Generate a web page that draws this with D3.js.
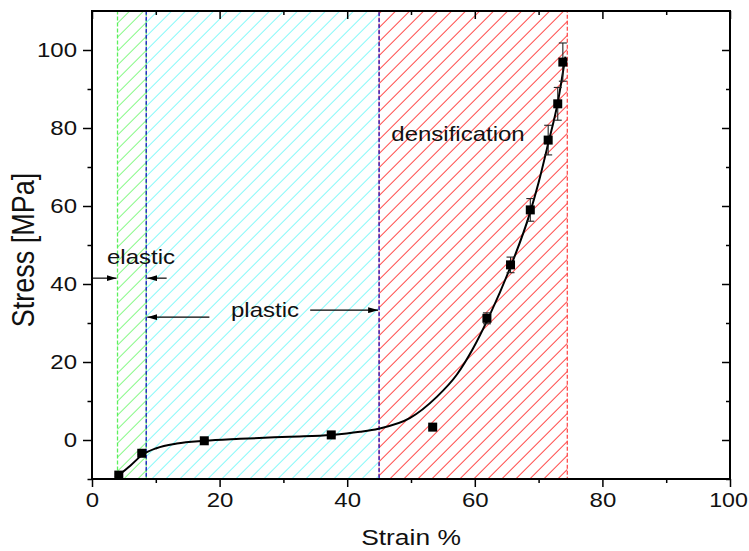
<!DOCTYPE html>
<html>
<head>
<meta charset="utf-8">
<script src="https://cdn.jsdelivr.net/npm/d3@7"></script>
<style>
  html, body { margin: 0; padding: 0; background: #fff; }
  svg { display: block; font-family: "Liberation Sans", Arial, sans-serif; }
</style>
</head>
<body>
<svg id="chart" width="749" height="551"></svg>
<script>
// Measured strain (%) / stress (MPa) points with their standard deviations
const strain = [4.2, 7.8, 17.6, 37.5, 53.4, 61.9, 65.6, 68.7, 71.5, 73.0, 73.8];
const stress = [-9.0, -3.4, -0.2, 1.3, 3.3, 31.2, 44.9, 59.0, 76.9, 86.2, 96.9];
const stressErr = [0.3, 0.3, 0.3, 0.3, 0.3, 1.4, 2.0, 2.9, 3.8, 4.2, 4.9];

// Fitted trend line through the measurements
const fitStrain = [4.2, 6.0, 7.8, 10.1, 13.3, 17.6, 23.2, 31.0, 37.5, 42.0, 44.9, 49.8, 54.0, 57.2, 59.7, 62.1, 65.5, 68.7, 70.0, 71.5, 73.0, 74.2];
const fitStress = [-9.0, -6.6, -3.9, -2.1, -0.9, -0.2, 0.3, 0.85, 1.3, 2.1, 2.9, 5.6, 11.0, 16.8, 23.4, 31.2, 44.0, 58.5, 66.0, 76.0, 86.5, 98.3];

// Deformation regimes (strain ranges)
const regionNames = ["elastic", "plastic", "densification"];
const regionStart = [4.0, 8.5, 45.0];
const regionEnd = [8.5, 45.0, 74.5];

// Axis ticks
const xTicks = [0, 20, 40, 60, 80, 100];
const xMinor = [10, 30, 50, 70, 90];
const yTicks = [0, 20, 40, 60, 80, 100];
const yMinor = [-10, 10, 30, 50, 70, 90];

const svg = d3.select("#chart");
const L = 92, R = 730, T = 11, B = 479;
const x = d3.scaleLinear().domain([0, 100]).range([L, R]);
const y = d3.scaleLinear().domain([-10, 110]).range([B, T]);
const SX = 1.2; // horizontal glyph stretch

// Hatch patterns for each regime
const hatchColors = ["#70f870", "#70f8f8", "#ff2a2a"];
const defs = svg.append("defs");
hatchColors.forEach((c, i) => {
  const p = defs.append("pattern")
    .attr("id", "hatch" + i)
    .attr("patternUnits", "userSpaceOnUse")
    .attr("width", 9.9).attr("height", 9.9)
    .attr("patternTransform", "rotate(45)");
  p.append("line")
    .attr("x1", 0).attr("y1", -1).attr("x2", 0).attr("y2", 11)
    .attr("stroke", c).attr("stroke-width", 1.7);
});

const borderColors = ["#5cf05c", "#1a1acc", "#ff3030"];
const regions = svg.append("g");
regionNames.forEach((n, i) => {
  regions.append("rect")
    .attr("x", x(regionStart[i])).attr("y", T)
    .attr("width", x(regionEnd[i]) - x(regionStart[i]))
    .attr("height", B - T)
    .attr("fill", "url(#hatch" + i + ")");
});
// Dashed region borders (densification first so the plastic border sits on top)
[2, 0, 1].forEach(i => {
  regions.append("rect")
    .attr("x", x(regionStart[i])).attr("y", T)
    .attr("width", x(regionEnd[i]) - x(regionStart[i]))
    .attr("height", B - T)
    .attr("fill", "none")
    .attr("stroke", i === 2 ? "#ff5050" : borderColors[i])
    .attr("stroke-width", 1.3)
    .attr("stroke-dasharray", "4,2");
});

// Fitted curve
const fitPts = fitStrain.map((s, i) => [s, fitStress[i]]);
svg.append("path")
  .datum(fitPts)
  .attr("fill", "none")
  .attr("stroke", "#000")
  .attr("stroke-width", 2)
  .attr("d", d3.line().x(d => x(d[0])).y(d => y(d[1])).curve(d3.curveMonotoneX));

// Error bars
const pts = strain.map((s, i) => ({ s, v: stress[i], e: stressErr[i] }));
const eb = svg.append("g").attr("stroke", "#222").attr("stroke-width", 1.1);
pts.forEach(d => {
  eb.append("line").attr("x1", x(d.s)).attr("x2", x(d.s)).attr("y1", y(d.v - d.e)).attr("y2", y(d.v + d.e));
  [d.v - d.e, d.v + d.e].forEach(v => {
    eb.append("line").attr("x1", x(d.s) - 4).attr("x2", x(d.s) + 4).attr("y1", y(v)).attr("y2", y(v));
  });
});

// Square markers
svg.append("g").selectAll("rect").data(pts).join("rect")
  .attr("x", d => x(d.s) - 4.5).attr("y", d => y(d.v) - 4.5)
  .attr("width", 9).attr("height", 9)
  .attr("fill", "#000");

// Annotation arrows
defs.append("marker")
  .attr("id", "arrow").attr("viewBox", "0 0 10 6")
  .attr("refX", 10).attr("refY", 3)
  .attr("markerWidth", 10).attr("markerHeight", 6)
  .attr("markerUnits", "userSpaceOnUse")
  .attr("orient", "auto")
  .append("path").attr("d", "M0,0 L10,3 L0,6 Z").attr("fill", "#000");

function arrow(x1, y1, x2, y2) {
  svg.append("line")
    .attr("x1", x1).attr("y1", y1).attr("x2", x2).attr("y2", y2)
    .attr("stroke", "#000").attr("stroke-width", 1.2)
    .attr("marker-end", "url(#arrow)");
}
arrow(x(0), y(41.5), x(regionStart[0]) - 1, y(41.5));
arrow(x(11.7), y(41.5), x(regionEnd[0]) + 1, y(41.5));
arrow(x(18.4), y(31.5), x(regionStart[1]) + 1, y(31.5));
arrow(x(34.2), y(33.3), x(regionEnd[1]) - 1, y(33.3));

function label(txt, px, py, size, anchor) {
  svg.append("text")
    .attr("transform", `translate(${px},${py}) scale(${SX},1)`)
    .attr("text-anchor", anchor || "middle")
    .attr("font-size", size)
    .attr("fill", "#111")
    .text(txt);
}
label(regionNames[0], 141, 264, 20);
label(regionNames[1], 265, 317, 20);
label(regionNames[2], 458, 141, 20);

// Axes
const axisG = svg.append("g");
function styleAxis(g) {
  g.select(".domain").remove();
  g.selectAll("line").attr("stroke", "#000").attr("stroke-width", 1.5);
}
// bottom
axisG.append("g").attr("transform", `translate(0,${B})`)
  .call(d3.axisBottom(x).tickValues(xTicks).tickSize(8).tickPadding(6))
  .call(styleAxis)
  .call(g => g.selectAll("text")
    .attr("font-size", 20).attr("fill", "#111")
    .attr("font-family", "Liberation Sans, Arial, sans-serif")
    .attr("transform", d => d === 100 ? `translate(-2,0) scale(1.16,1)` : `scale(${SX},1)`));
axisG.append("g").attr("transform", `translate(0,${B})`)
  .call(d3.axisBottom(x).tickValues(xMinor).tickSize(4).tickFormat(""))
  .call(styleAxis);
// top (inward ticks)
axisG.append("g").attr("transform", `translate(0,${T})`)
  .call(d3.axisTop(x).tickValues(xTicks).tickSize(-8).tickFormat(""))
  .call(styleAxis);
axisG.append("g").attr("transform", `translate(0,${T})`)
  .call(d3.axisTop(x).tickValues(xMinor).tickSize(-4).tickFormat(""))
  .call(styleAxis);
// left
axisG.append("g").attr("transform", `translate(${L},0)`)
  .call(d3.axisLeft(y).tickValues(yTicks).tickSize(9).tickPadding(6))
  .call(styleAxis)
  .call(g => g.selectAll("text")
    .attr("font-size", 20).attr("fill", "#111")
    .attr("font-family", "Liberation Sans, Arial, sans-serif")
    .attr("x", -12.5)
    .attr("transform", `scale(${SX},1)`));
axisG.append("g").attr("transform", `translate(${L},0)`)
  .call(d3.axisLeft(y).tickValues(yMinor).tickSize(4.5).tickFormat(""))
  .call(styleAxis);
// right (inward ticks)
axisG.append("g").attr("transform", `translate(${R},0)`)
  .call(d3.axisRight(y).tickValues(yTicks).tickSize(-8).tickFormat(""))
  .call(styleAxis);
axisG.append("g").attr("transform", `translate(${R},0)`)
  .call(d3.axisRight(y).tickValues(yMinor).tickSize(-4).tickFormat(""))
  .call(styleAxis);

// Frame
svg.append("rect")
  .attr("x", L).attr("y", T).attr("width", R - L).attr("height", B - T)
  .attr("fill", "none").attr("stroke", "#000").attr("stroke-width", 2);

// Axis titles
label("Strain %", (L + R) / 2, 545, 22);
svg.append("text")
  .attr("transform", `translate(34,${(T + B) / 2 + 5}) scale(1.15,1) rotate(-90)`)
  .attr("text-anchor", "middle")
  .attr("font-size", 27)
  .attr("fill", "#111")
  .text("Stress [MPa]");
</script>
</body>
</html>
